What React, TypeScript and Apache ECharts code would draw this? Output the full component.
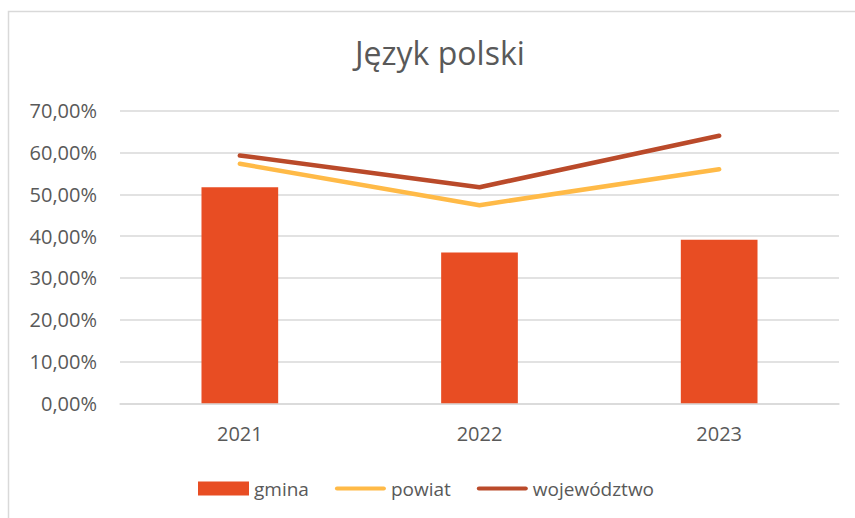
import React, { useEffect, useRef } from "react";
import * as echarts from "echarts";

const years = ["2021", "2022", "2023"];
const gmina = [51.7, 36.1, 39.1];
const powiat = [57.3, 47.4, 56.0];
const wojewodztwo = [59.3, 51.7, 64.0];

const FONT = "'Open Sans', 'Noto Sans', sans-serif";
const TXT = "#595959";
const LINE_ICON = "path://M2,0 L51,0 A2.2,2.2 0 0 1 51,4.4 L2,4.4 A2.2,2.2 0 0 1 2,0 Z";

export default function App() {
  const ref = useRef<HTMLDivElement>(null);
  useEffect(() => {
    const chart = echarts.init(ref.current!, null, { renderer: "svg" });
    chart.setOption({
      animation: false,
      backgroundColor: "#ffffff",
      textStyle: { fontFamily: FONT },
      title: {
        text: "Język polski",
        left: 350,
        top: 31,
        textStyle: { fontFamily: FONT, fontSize: 32, fontWeight: "normal", color: TXT },
      },
      graphic: [
        {
          type: "polyline",
          shape: { points: [[8.5, 530], [8.5, 11.5], [870, 11.5]] },
          style: { stroke: "#d9d9d9", lineWidth: 1.5, fill: "none" },
          silent: true,
        },
      ],
      legend: {
        bottom: 15,
        left: 193,
        itemWidth: 51,
        itemHeight: 14,
        itemGap: 26,
        symbolKeepAspect: true,
        textStyle: { fontFamily: FONT, fontSize: 19, color: TXT },
        data: [
          { name: "gmina", icon: "rect" },
          { name: "powiat", icon: LINE_ICON },
          { name: "województwo", icon: LINE_ICON },
        ],
      },
      grid: { left: 120, right: 16, top: 110.7, bottom: 114.7, containLabel: false },
      xAxis: {
        type: "category",
        data: years,
        axisLine: { lineStyle: { color: "#d9d9d9", width: 1.5 } },
        axisTick: { show: false },
        axisLabel: { fontFamily: FONT, fontSize: 20, color: TXT, margin: 20 },
      },
      yAxis: {
        type: "value",
        min: 0,
        max: 70,
        interval: 10,
        axisLine: { show: false },
        axisTick: { show: false },
        splitLine: { lineStyle: { color: "#d9d9d9", width: 1.5 } },
        axisLabel: {
          fontFamily: FONT,
          fontSize: 20,
          color: TXT,
          margin: 23,
          formatter: (v: number) => v.toFixed(2).replace(".", ",") + "%",
        },
      },
      series: [
        {
          name: "gmina",
          type: "bar",
          data: gmina,
          barWidth: "32%",
          itemStyle: { color: "#E84D23" },
        },
        {
          name: "powiat",
          type: "line",
          data: powiat,
          symbol: "none",
          lineStyle: { color: "#FFBA47", width: 4.5, cap: "round", join: "round" },
          itemStyle: { color: "#FFBA47" },
        },
        {
          name: "województwo",
          type: "line",
          data: wojewodztwo,
          symbol: "none",
          lineStyle: { color: "#BA4A2A", width: 4.5, cap: "round", join: "round" },
          itemStyle: { color: "#BA4A2A" },
        },
      ],
    });
    return () => chart.dispose();
  }, []);
  return (
    <div
      ref={ref}
      style={{ position: "absolute", left: 0, top: 0, width: 855, height: 518 }}
    />
  );
}
